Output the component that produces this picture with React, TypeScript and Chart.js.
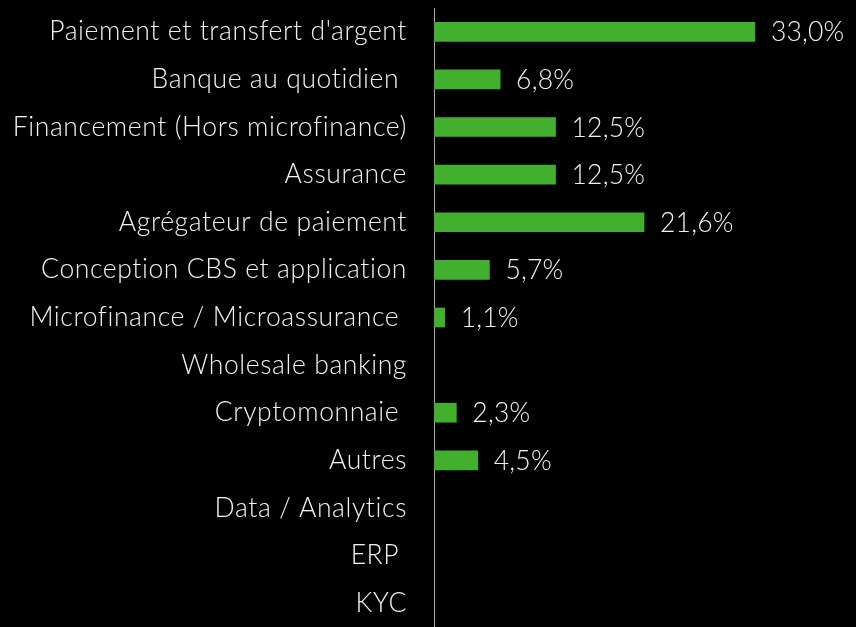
import React, { useEffect, useRef } from "react";
import { Chart, registerables } from "chart.js";

Chart.register(...registerables);

const categories = [
  "Paiement et transfert d'argent",
  "Banque au quotidien ",
  "Financement (Hors microfinance)",
  "Assurance",
  "Agrégateur de paiement",
  "Conception CBS et application",
  "Microfinance / Microassurance ",
  "Wholesale banking",
  "Cryptomonnaie ",
  "Autres",
  "Data / Analytics",
  "ERP ",
  "KYC",
];

const values: (number | null)[] = [33.0, 6.8, 12.5, 12.5, 21.6, 5.7, 1.1, null, 2.3, 4.5, null, null, null];

const valueLabels: (string | null)[] = ["33,0%", "6,8%", "12,5%", "12,5%", "21,6%", "5,7%", "1,1%", null, "2,3%", "4,5%", null, null, null];

const FONT = "Lato, 'Open Sans', sans-serif";
const FONT_SIZE = 26.5;
const TEXT = "#F2F2F2";
const GREEN = "#42B02E";

const spacingPlugin = {
  id: "spacing",
  beforeLayout(chart: any) {
    chart.ctx.letterSpacing = "0.6px";
  },
  beforeDraw(chart: any) {
    chart.ctx.letterSpacing = "0.6px";
  },
};

const valueLabelPlugin = {
  id: "valueLabels",
  afterDatasetsDraw(chart: any) {
    const ctx = chart.ctx;
    const meta = chart.getDatasetMeta(0);
    ctx.save();
    ctx.letterSpacing = "0.2px";
    ctx.font = `300 ${FONT_SIZE}px ${FONT}`;
    ctx.fillStyle = TEXT;
    ctx.textAlign = "left";
    ctx.textBaseline = "middle";
    meta.data.forEach((bar: any, i: number) => {
      const lbl = valueLabels[i];
      if (lbl == null) return;
      ctx.fillText(lbl, bar.x + 16, bar.y + 1);
    });
    ctx.restore();
  },
};

export default function App() {
  const ref = useRef<HTMLCanvasElement>(null);
  useEffect(() => {
    document.body.style.margin = "0";
    document.body.style.background = "#000";
    const chart = new Chart(ref.current!, {
      type: "bar",
      data: {
        labels: categories,
        datasets: [
          {
            data: values as any,
            backgroundColor: GREEN,
            barThickness: 19,
          },
        ],
      },
      options: {
        indexAxis: "y",
        animation: false,
        responsive: false,
        maintainAspectRatio: false,
        layout: { padding: { top: 8, bottom: 0, left: 0, right: 0 } },
        plugins: { legend: { display: false }, tooltip: { enabled: false } },
        scales: {
          x: {
            display: false,
            min: 0,
            max: 43.4,
          },
          y: {
            afterFit(scale: any) {
              scale.width = 434;
              scale.paddingTop = 0;
              scale.paddingBottom = 0;
            },
            grid: { display: false, drawTicks: false },
            border: { display: true, color: "#A6A6A6", width: 1 },
            ticks: {
              color: TEXT,
              padding: 27,
              font: { family: FONT, size: FONT_SIZE, weight: "300" as any },
            },
          },
        },
      },
      plugins: [spacingPlugin, valueLabelPlugin],
    });
    return () => chart.destroy();
  }, []);
  return (
    <div style={{ position: "fixed", left: 0, top: 0, width: 856, height: 627, background: "#000" }}>
      <canvas ref={ref} width={856} height={627} style={{ width: 856, height: 627 }} />
    </div>
  );
}
